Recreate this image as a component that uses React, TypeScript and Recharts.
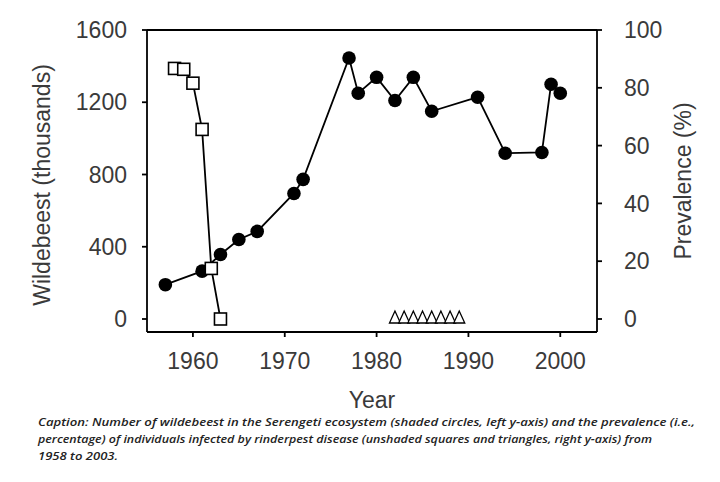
import React from 'react';
import { ComposedChart, Line, XAxis, YAxis, ReferenceLine } from 'recharts';

// wildebeest counts (thousands), left axis
const wildebeestYears = [1957, 1961, 1963, 1965, 1967, 1971, 1972, 1977, 1978, 1980, 1982, 1984, 1986, 1991, 1994, 1998, 1999, 2000];
const wildebeestCounts = [190, 265, 357, 440, 485, 695, 773, 1445, 1250, 1338, 1210, 1338, 1150, 1228, 918, 922, 1300, 1250];

// rinderpest prevalence (%), right axis
const squareYears = [1958, 1959, 1960, 1961, 1962, 1963];
const squarePrevalence = [86.7, 86.4, 81.6, 65.6, 17.5, 0];

const triangleYears = [1982, 1983, 1984, 1985, 1986, 1987, 1988, 1989];
const trianglePrevalence = [0, 0, 0, 0, 0, 0, 0, 0];

const yearTicks = [1960, 1970, 1980, 1990, 2000];
const leftTicks = [0, 400, 800, 1200, 1600];
const rightTicks = [0, 20, 40, 60, 80, 100];

const captionLines = [
  'Caption: Number of wildebeest in the Serengeti ecosystem (shaded circles, left y-axis) and the prevalence (i.e.,',
  'percentage) of individuals infected by rinderpest disease (unshaded squares and triangles, right y-axis) from',
  '1958 to 2003.',
];

const wildebeestData = wildebeestYears.map((year, i) => ({ year, count: wildebeestCounts[i] }));
const squareData = squareYears.map((year, i) => ({ year, prev: squarePrevalence[i] }));
const triangleData = triangleYears.map((year, i) => ({ year, prev: trianglePrevalence[i] }));

const FONT = '"Liberation Sans", Arial, sans-serif';
const tickStyle = { fontFamily: FONT, fontSize: 23, fill: '#3a3a3a' };
const captionStyle = { fontFamily: '"Open Sans", sans-serif', fontStyle: 'italic', fontWeight: 600, fontSize: 11, fill: '#222' };

const renderCircle = (props: any) => {
  const { cx, cy, index } = props;
  return <circle key={`c-${index}`} cx={cx} cy={cy} r={6.8} fill="#000" />;
};

const renderSquare = (props: any) => {
  const { cx, cy, index } = props;
  return (
    <rect key={`s-${index}`} x={cx - 6} y={cy - 6} width={12} height={12} fill="#fff" stroke="#000" strokeWidth={1.6} />
  );
};

const renderTriangle = (props: any) => {
  const { cx, cy, index } = props;
  const pts = `${cx - 5.5},${cy + 4} ${cx + 5.5},${cy + 4} ${cx},${cy - 8}`;
  return <polygon key={`t-${index}`} points={pts} fill="#fff" stroke="#000" strokeWidth={1.3} />;
};

export default function App() {
  return (
    <div style={{ position: 'absolute', left: 0, top: 0, width: 720, height: 482, background: '#fff' }}>
      <ComposedChart width={720} height={400} margin={{ top: 30, right: 0, bottom: 0, left: 0 }}>
        <XAxis
          dataKey="year"
          type="number"
          domain={[1955, 2004]}
          ticks={yearTicks}
          allowDataOverflow
          height={68}
          tickSize={5}
          tickMargin={16}
          tick={tickStyle}
          stroke="#000"
          strokeWidth={1.8}
        />
        <YAxis
          yAxisId="left"
          domain={[-72, 1600]}
          ticks={leftTicks}
          allowDataOverflow
          width={147}
          tickSize={5}
          tickMargin={15}
          tick={tickStyle}
          stroke="#000"
          strokeWidth={1.8}
        />
        <YAxis
          yAxisId="right"
          orientation="right"
          domain={[-4.5, 100]}
          ticks={rightTicks}
          allowDataOverflow
          width={123}
          tickSize={5}
          tickMargin={22}
          tick={tickStyle}
          stroke="#000"
          strokeWidth={1.8}
        />
        <ReferenceLine yAxisId="left" y={1600} stroke="#000" strokeWidth={1.8} />
        <Line
          yAxisId="left"
          data={wildebeestData}
          dataKey="count"
          stroke="#000"
          strokeWidth={1.8}
          dot={renderCircle}
          activeDot={false}
          isAnimationActive={false}
        />
        <Line
          yAxisId="right"
          data={squareData}
          dataKey="prev"
          stroke="#000"
          strokeWidth={1.8}
          dot={renderSquare}
          activeDot={false}
          isAnimationActive={false}
        />
        <Line
          yAxisId="right"
          data={triangleData}
          dataKey="prev"
          stroke="none"
          dot={renderTriangle}
          activeDot={false}
          isAnimationActive={false}
        />
      </ComposedChart>

      <div
        style={{
          position: 'absolute', left: 42, top: 185, transform: 'translate(-50%, -50%) rotate(-90deg)',
          fontFamily: FONT, fontSize: 23, lineHeight: 1, color: '#3a3a3a', whiteSpace: 'nowrap',
        }}
      >
        Wildebeest (thousands)
      </div>
      <div
        style={{
          position: 'absolute', left: 683, top: 181, transform: 'translate(-50%, -50%) rotate(-90deg)',
          fontFamily: FONT, fontSize: 23, lineHeight: 1, color: '#3a3a3a', whiteSpace: 'nowrap',
        }}
      >
        Prevalence (%)
      </div>
      <div
        style={{
          position: 'absolute', left: 372, top: 400, transform: 'translate(-50%, -50%)',
          fontFamily: FONT, fontSize: 23, lineHeight: 1, color: '#3a3a3a', whiteSpace: 'nowrap',
        }}
      >
        Year
      </div>

      <svg style={{ position: 'absolute', left: 0, top: 405 }} width={720} height={70}>
        <text x={38} y={21} textLength={657} lengthAdjust="spacingAndGlyphs" style={captionStyle}>
          {captionLines[0]}
        </text>
        <text x={38} y={38} textLength={614} lengthAdjust="spacingAndGlyphs" style={captionStyle}>
          {captionLines[1]}
        </text>
        <text x={38} y={55} textLength={80} lengthAdjust="spacingAndGlyphs" style={captionStyle}>
          {captionLines[2]}
        </text>
      </svg>
    </div>
  );
}
